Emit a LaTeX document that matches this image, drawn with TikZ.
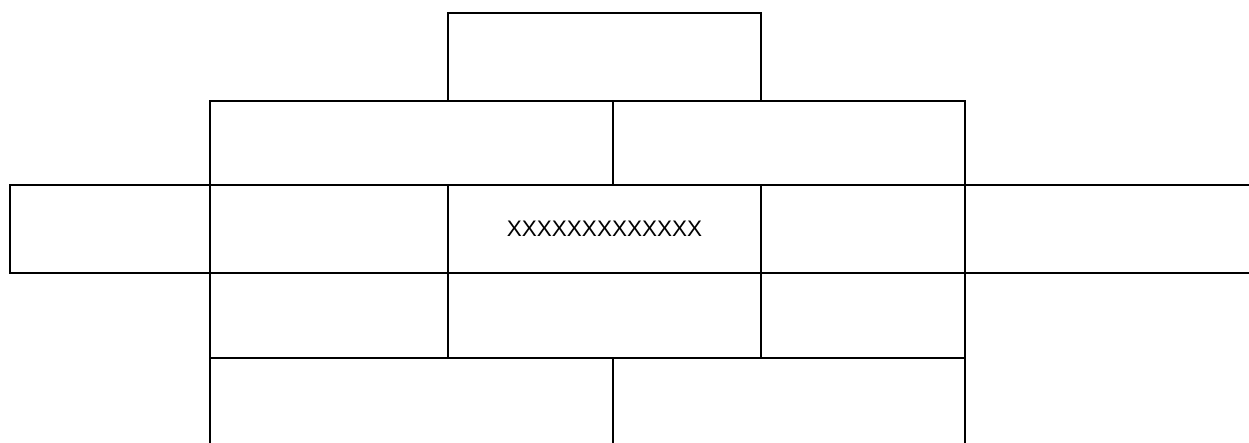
\documentclass[tikz,border=0pt]{standalone}
\usepackage{fontspec}
\setmainfont{Liberation Sans}
\usetikzlibrary{positioning}

\begin{document}
\begin{tikzpicture}[x=1pt, y=-1pt, line width=2pt, node distance=0pt,
    cell/.style={draw, rectangle, inner sep=0pt, outer sep=0pt, anchor=north west},
    rowA/.style={cell, minimum height=88pt},
    rowB/.style={cell, minimum height=84pt},
    rowD/.style={cell, minimum height=85pt}]
  \useasboundingbox (0,0) rectangle (1249,443);
  % top
  \node[rowA, minimum width=313pt] (T) at (448,13) {};
  % second row
  \node[rowB, minimum width=403pt] (A1) at (210,101) {};
  \node[rowB, minimum width=352pt, right=of A1] (A2) {};
  % middle row
  \node[rowA, minimum width=200pt] (L) at (10,185) {};
  \node[rowA, minimum width=238pt, right=of L] (M1) {};
  \node[rowA, minimum width=313pt, right=of M1, font=\fontsize{22.5}{27}\selectfont] (C) {XXXXXXXXXXXXX};
  \node[rowA, minimum width=204pt, right=of C] (M3) {};
  \coordinate (Rt) at (1249,185);
  \coordinate (Rb) at (1249,273);
  \draw (M3.north east) -- (Rt);
  \draw (M3.south east) -- (Rb);
  % fourth row
  \node[rowD, minimum width=238pt] (D1) at (210,273) {};
  \node[rowD, minimum width=313pt, right=of D1] (D2) {};
  \node[rowD, minimum width=204pt, right=of D2] (D3) {};
  % bottom row, open
  \coordinate (E0) at (210,443);
  \coordinate (E1t) at (613,358);
  \coordinate (E1) at (613,443);
  \coordinate (E2) at (965,443);
  \draw (D1.south west) -- (E0);
  \draw (E1t) -- (E1);
  \draw (D3.south east) -- (E2);
\end{tikzpicture}
\end{document}
